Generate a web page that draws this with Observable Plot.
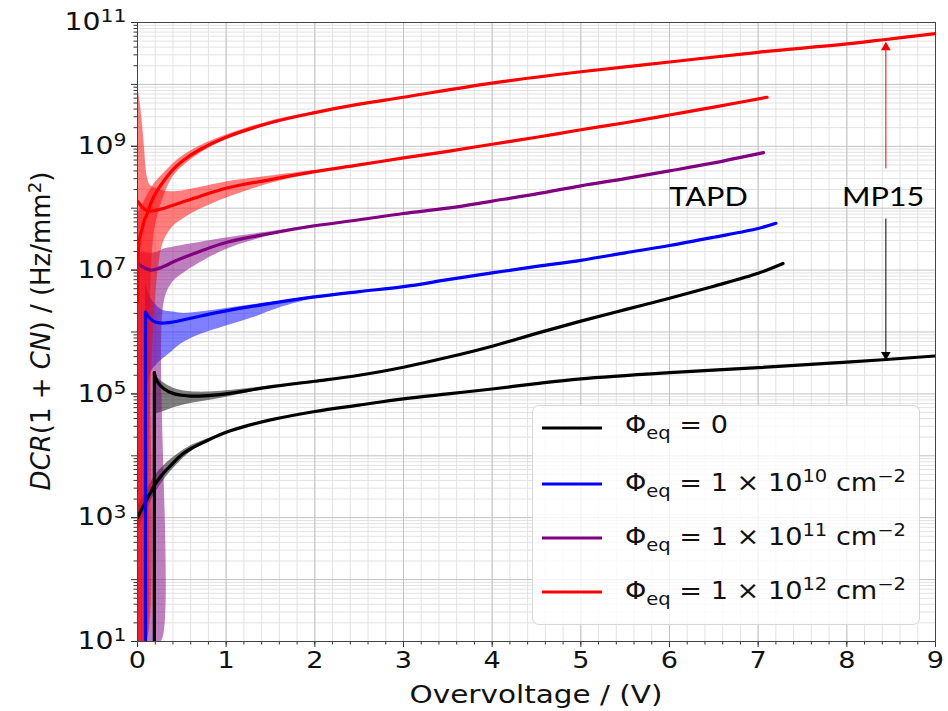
<!DOCTYPE html>
<html><head><meta charset="utf-8">
<script src="https://cdn.jsdelivr.net/npm/d3@7"></script>
<script src="https://cdn.jsdelivr.net/npm/@observablehq/plot@0.6"></script>
<style>
body{margin:0;background:#fff;}
#wrap{position:relative;width:948px;height:711px;font-family:"DejaVu Sans",sans-serif;color:#111;}
#legend{position:absolute;left:532px;top:405px;width:388px;height:220px;box-sizing:border-box;border:1px solid #d6d6d6;border-radius:7px;background:rgba(255,255,255,0.8);}
.sw{position:absolute;left:9px;width:60px;height:3px;transform:translateY(-50%);}
.lb{position:absolute;left:92px;font-size:24px;white-space:nowrap;transform:translateY(-50%) scaleX(1.13);transform-origin:0 50%;line-height:1;}
.lb sub{font-size:0.72em;vertical-align:-0.35em;}
.lb sup{font-size:0.72em;vertical-align:0.55em;}
</style></head>
<body><div id="wrap"></div>
<script>
// ---------- data ----------
const xTicks = [0,1,2,3,4,5,6,7,8,9];
const yLabelExps = [1,3,5,7,9,11];
const xTitle = "Overvoltage / (V)";

// Phi = 0, MP15
const k0mpX = [0,0.05,0.1,0.2,0.3,0.4,0.5,0.6,0.8,1.0,1.25,1.5,2.0,2.5,3.0,3.5,4.0,4.5,5.0,6.0,7.0,8.0,9.0];
const k0mpY = [1.0e3,1.4e3,1.9e3,3.5e3,5.4e3,7.6e3,1.05e4,1.3e4,1.8e4,2.4e4,3.1e4,3.8e4,5.2e4,6.6e4,8.3e4,1.0e5,1.2e5,1.47e5,1.75e5,2.2e5,2.65e5,3.25e5,4.1e5];
const k0mpBX = [0,0.1,0.2,0.3,0.4,0.6,0.8,1.0];
const k0mpLo = [6e2,1.3e3,2.5e3,4.1e3,6.1e3,1.15e4,1.7e4,2.3e4];
const k0mpHi = [1.5e3,2.7e3,4.8e3,7e3,9.3e3,1.45e4,1.9e4,2.5e4];

// Phi = 0, TAPD
const k0tX = [0.19,0.19,0.22,0.3,0.4,0.5,0.6,0.8,1.0,1.5,2.0,2.5,3.0,3.5,4.0,4.5,5.0,5.5,6.0,6.5,7.0,7.28];
const k0tY = [10,2.2e5,1.6e5,1.2e5,1.02e5,9.5e4,9.2e4,9.4e4,1.0e5,1.3e5,1.6e5,2.0e5,2.7e5,3.9e5,5.9e5,9.5e5,1.5e6,2.3e6,3.5e6,5.5e6,8.9e6,1.28e7];
const k0tBX = [0.19,0.22,0.3,0.4,0.5,0.6,0.8,1.0,1.3,1.6,2.0];
const k0tLo = [4.5e4,4.8e4,5.2e4,5.9e4,6.5e4,7.0e4,7.8e4,8.8e4,1.08e5,1.3e5,1.55e5];
const k0tHi = [2.3e5,1.9e5,1.5e5,1.25e5,1.13e5,1.08e5,1.07e5,1.12e5,1.25e5,1.42e5,1.65e5];

// Phi = 1e10, TAPD
const k10X = [0.09,0.09,0.12,0.18,0.25,0.32,0.4,0.5,0.7,1.0,1.5,2.0,2.5,3.0,3.5,4.0,4.5,5.0,5.5,6.0,6.5,7.0,7.2];
const k10Y = [10,2.1e6,1.8e6,1.5e6,1.4e6,1.4e6,1.45e6,1.55e6,1.8e6,2.2e6,2.9e6,3.7e6,4.5e6,5.4e6,7.0e6,9.0e6,1.15e7,1.44e7,1.9e7,2.5e7,3.4e7,4.7e7,5.7e7];
const k10BX = [0.09,0.12,0.15,0.2,0.25,0.3,0.4,0.5,0.7,1.0,1.3,1.6,2.0];
const k10Lo = [1e5,1.5e5,2.2e5,2.8e5,3.3e5,3.8e5,5e5,6.5e5,9e5,1.25e6,1.7e6,2.45e6,3.55e6];
const k10Hi = [6e6,4.5e6,3.5e6,2.8e6,2.4e6,2.2e6,2.1e6,2.0e6,2.1e6,2.4e6,2.75e6,3.1e6,3.85e6];

// Phi = 1e11, TAPD
const k11X = [0,0.05,0.1,0.15,0.2,0.3,0.4,0.5,0.7,1.0,1.5,2.0,2.5,3.0,3.5,4.0,4.5,5.0,5.5,6.0,6.5,7.06];
const k11Y = [1.27e7,1.15e7,1.05e7,1.0e7,1.02e7,1.15e7,1.35e7,1.55e7,2.0e7,2.8e7,3.9e7,5.2e7,6.5e7,8.2e7,1.0e8,1.3e8,1.7e8,2.3e8,3.0e8,4.0e8,5.4e8,7.9e8];
const k11BX = [0,0.1,0.2,0.27,0.3,0.4,0.5,0.7,1.0,1.3,1.6,2.0];
const k11Lo = [10,10,10,10,3e6,6.4e6,8.5e6,1.3e7,2.15e7,3.0e7,3.9e7,5.0e7];
const k11Hi = [2.0e7,1.9e7,1.9e7,2.1e7,2.2e7,2.35e7,2.5e7,2.8e7,3.3e7,3.8e7,4.4e7,5.4e7];

// Phi = 1e12, TAPD
const k12tX = [0,0.05,0.1,0.15,0.2,0.3,0.4,0.5,0.7,1.0,1.5,2.0,2.5,3.0,3.5,4.0,4.5,5.0,5.5,6.0,6.5,7.1];
const k12tY = [1.3e8,1.05e8,9.2e7,9.0e7,9.2e7,1.0e8,1.12e8,1.25e8,1.55e8,2.1e8,2.9e8,3.9e8,5.0e8,6.5e8,8.3e8,1.08e9,1.4e9,1.85e9,2.4e9,3.2e9,4.3e9,6.2e9];
const k12tBX = [0,0.03,0.06,0.08,0.1,0.13,0.15,0.2,0.25,0.3,0.4,0.5,0.7,1.0,1.5,2.0];
const k12tLo = [10,10,10,10,10,1e4,1e5,3e6,1.5e7,3e7,5e7,6.5e7,9.5e7,1.45e8,2.5e8,3.7e8];
const k12tHi = [1e10,5e9,2e9,9e8,4e8,2.5e8,2.3e8,2.1e8,2.0e8,1.9e8,1.85e8,1.9e8,2.15e8,2.65e8,3.3e8,4.1e8];

// Phi = 1e12, MP15
const k12mX = [0,0.02,0.05,0.08,0.11,0.15,0.2,0.3,0.4,0.5,0.7,1.0,1.5,2.0,2.5,3.0,4.0,5.0,6.0,7.0,8.0,9.0];
const k12mY = [3e6,3e7,4.5e7,6.5e7,8.2e7,1.2e8,1.7e8,2.8e8,4.2e8,5.7e8,8.8e8,1.4e9,2.4e9,3.5e9,4.8e9,6.2e9,1.05e10,1.6e10,2.3e10,3.3e10,4.5e10,6.6e10];
const k12mBX = [0,0.05,0.1,0.15,0.2,0.3,0.4,0.5,0.7,1.0,1.5,2.0];
const k12mLo = [10,10,10,5e6,5e7,1.6e8,3.2e8,4.6e8,7.6e8,1.28e9,2.25e9,3.4e9];
const k12mHi = [8e7,1.1e8,1.5e8,2.0e8,2.6e8,3.7e8,5.2e8,6.8e8,1.0e9,1.52e9,2.55e9,3.6e9];

// annotations
const annX = 8.44;
const redArrowY = [4.4e8, 4.6e10];
const blackArrowY = [6.8e7, 3.7e5];
const labelTexts = ["TAPD", "MP15"];
const labelX = [6.44, 8.41];
const labelY = [1.5e8, 1.5e8];

// legend entries
const legendColors = ["#000000", "#0000ff", "#800080", "#ff0000"];
const legendLabels = [
  'Φ<sub>eq</sub> = 0',
  'Φ<sub>eq</sub> = 1 × 10<sup>10</sup> cm<sup>−2</sup>',
  'Φ<sub>eq</sub> = 1 × 10<sup>11</sup> cm<sup>−2</sup>',
  'Φ<sub>eq</sub> = 1 × 10<sup>12</sup> cm<sup>−2</sup>'
];

// ---------- ticks ----------
const xMinor = d3.range(0, 9.0001, 0.2).map(v => +v.toFixed(2));
const yDecades = d3.range(1, 12).map(e => Math.pow(10, e));
const yMinor = [];
for (let e = 1; e < 11; e++) for (let m = 2; m <= 9; m++) yMinor.push(m * Math.pow(10, e));
const yLabeled = yLabelExps.map(e => Math.pow(10, e));
const fmtY = d => "10^" + Math.round(Math.log10(d));

const band = (X, LO, HI, color) => Plot.areaY(X, {x: X, y1: LO, y2: HI, fill: color, fillOpacity: 0.5, curve: "catmull-rom", clip: true});
const lineOpts = {strokeWidth: 3.2, clip: true, strokeLinejoin: "round", strokeLinecap: "round"};
// a series that starts with a vertical rise (repeated x) is drawn as a straight rise plus a smooth curve
const line = (X, Y, color) => {
  if (X[0] === X[1]) {
    const X0 = X.slice(0, 2), Y0 = Y.slice(0, 2), X1 = X.slice(1), Y1 = Y.slice(1);
    return [
      Plot.line(X0, {x: X0, y: Y0, stroke: color, ...lineOpts}),
      Plot.line(X1, {x: X1, y: Y1, stroke: color, curve: "catmull-rom", ...lineOpts})
    ];
  }
  return Plot.line(X, {x: X, y: Y, stroke: color, curve: "catmull-rom", ...lineOpts});
};

const chart = Plot.plot({
  width: 948, height: 711,
  marginLeft: 137, marginRight: 13, marginTop: 22, marginBottom: 70,
  style: {fontFamily: "DejaVu Sans", fontSize: "23px", background: "transparent", color: "#111"},
  x: {domain: [0, 9]},
  y: {type: "log", domain: [10, 1e11]},
  marks: [
    Plot.gridX(xMinor, {stroke: "#e2e2e2", strokeOpacity: 1}),
    Plot.gridY(yMinor, {stroke: "#e2e2e2", strokeOpacity: 1}),
    Plot.gridX(xTicks, {stroke: "#c2c2c2", strokeOpacity: 1}),
    Plot.gridY(yDecades, {stroke: "#c2c2c2", strokeOpacity: 1}),
    band(k0mpBX, k0mpLo, k0mpHi, "#000000"),
    band(k0tBX, k0tLo, k0tHi, "#000000"),
    band(k10BX, k10Lo, k10Hi, "#0000ff"),
    band(k11BX, k11Lo, k11Hi, "#800080"),
    band(k12tBX, k12tLo, k12tHi, "#ff0000"),
    band(k12mBX, k12mLo, k12mHi, "#ff0000"),
    line(k0mpX, k0mpY, "#000000"),
    line(k0tX, k0tY, "#000000"),
    line(k10X, k10Y, "#0000ff"),
    line(k11X, k11Y, "#800080"),
    line(k12tX, k12tY, "#ff0000"),
    line(k12mX, k12mY, "#ff0000"),
    Plot.axisX(xMinor, {tickSize: 3.5, tickFormat: () => "", label: null, stroke: "#333"}),
    Plot.axisX(xTicks, {tickSize: 6, tickPadding: 4, label: null, stroke: "#333", fill: "#111"}),
    Plot.axisY(yMinor, {tickSize: 3.5, tickFormat: () => "", label: null, stroke: "#333"}),
    Plot.axisY(yDecades, {tickSize: 6, tickFormat: () => "", label: null, stroke: "#333"}),
    Plot.axisY(yLabeled, {tickSize: 6, tickPadding: 5, tickFormat: fmtY, label: null, stroke: "#333", fill: "#111", fontSize: 24}),
    Plot.frame({stroke: "#444"}),
    Plot.link([0], {x1: [annX], x2: [annX], y1: [redArrowY[0]], y2: [redArrowY[1]], stroke: "#ff0000", strokeWidth: 1}),
    Plot.dot([0], {x: [annX], y: [redArrowY[1]], symbol: "triangle", r: 3.6, fill: "#ff0000", stroke: "none", dy: 4}),
    Plot.link([0], {x1: [annX], x2: [annX], y1: [blackArrowY[0]], y2: [blackArrowY[1]], stroke: "#000000", strokeWidth: 1}),
    Plot.dot([0], {x: [annX], y: [blackArrowY[1]], symbol: "triangle", r: 3.6, fill: "#000000", stroke: "none", rotate: 180, dy: -4}),
    Plot.text(labelTexts, {x: labelX, y: labelY, text: d => d, fontFamily: "Lato", fontSize: 26, fill: "#000"})
  ]
});

const wrap = document.getElementById("wrap");
wrap.appendChild(chart);
const NS = "http://www.w3.org/2000/svg";

// exponent superscripts on the y tick labels
chart.querySelectorAll("text").forEach(t => {
  const s = t.textContent;
  if (/^10\^\d+$/.test(s)) {
    const exp = s.split("^")[1];
    t.textContent = "10";
    const ts = document.createElementNS(NS, "tspan");
    ts.setAttribute("dy", "-0.45em");
    ts.setAttribute("font-size", "0.72em");
    ts.textContent = exp;
    t.appendChild(ts);
  }
});

// slight horizontal stretch of the plot texts (as in the reference image)
const S = 1.18;
chart.querySelectorAll("text").forEach(t => {
  if (!t.textContent) return;
  const bb = t.getBBox();
  const tr = t.getAttribute("transform") || "";
  const anchor = getComputedStyle(t).textAnchor;
  const cx = anchor === "end" ? bb.x + bb.width : anchor === "middle" ? bb.x + bb.width / 2 : bb.x;
  t.setAttribute("transform", `${tr} translate(${cx},0) scale(${S},1) translate(${-cx},0)`);
});

// axis titles as svg text
const svg = d3.select(chart);
svg.append("text")
  .attr("transform", "translate(536,703) scale(1.18,1)")
  .attr("text-anchor", "middle")
  .attr("font-size", 25)
  .attr("fill", "#111")
  .text(xTitle);
const yt = svg.append("text")
  .attr("transform", "translate(50,331) rotate(-90)")
  .attr("text-anchor", "middle")
  .attr("font-size", 26)
  .attr("fill", "#111");
yt.append("tspan").attr("font-style", "italic").text("DCR");
yt.append("tspan").text("(1 + ");
yt.append("tspan").attr("font-style", "italic").text("CN");
yt.append("tspan").text(") / (Hz/mm");
yt.append("tspan").attr("font-size", "0.7em").attr("dy", "-0.5em").text("2");
yt.append("tspan").attr("dy", "0.35em").text(")");

const lg = document.createElement("div");
lg.id = "legend";
const rowY = [22, 78, 132, 186];
legendLabels.forEach((t, i) => {
  const s = document.createElement("div");
  s.className = "sw"; s.style.top = rowY[i] + "px"; s.style.background = legendColors[i];
  lg.appendChild(s);
  const l = document.createElement("div");
  l.className = "lb"; l.style.top = rowY[i] + "px"; l.innerHTML = t;
  lg.appendChild(l);
});
wrap.appendChild(lg);
</script>
</body></html>
